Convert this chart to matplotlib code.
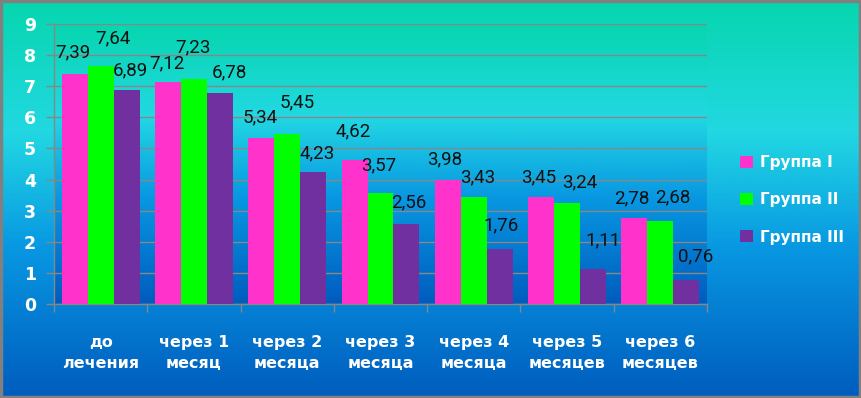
import numpy as np
import matplotlib
matplotlib.use("Agg")
import matplotlib.pyplot as plt
from matplotlib.colors import LinearSegmentedColormap
from matplotlib.patches import Rectangle

plt.rcParams["font.family"] = ["Roboto", "DejaVu Sans"]
BOLD = ["DejaVu Sans"]

categories = ["до\nлечения", "через 1\nмесяц", "через 2\nмесяца", "через 3\nмесяца",
              "через 4\nмесяца", "через 5\nмесяцев", "через 6\nмесяцев"]
series_names = ["Группа I", "Группа II", "Группа III"]
group1 = [7.39, 7.12, 5.34, 4.62, 3.98, 3.45, 2.78]
group2 = [7.64, 7.23, 5.45, 3.57, 3.43, 3.24, 2.68]
group3 = [6.89, 6.78, 4.23, 2.56, 1.76, 1.11, 0.76]
yticks = list(range(0, 10))

colors = ["#FF33CC", "#00FF00", "#7030A0"]
# label offsets in points (dx, dy) per series, per category
offsets = [
    [(-1, 16), (-1, 14), (-1, 15), (-1, 21), (-2, 15), (-2, 14), (-2, 14)],
    [(9, 20), (-1, 23), (7, 23), (-1, 20), (3, 14), (9, 15), (9, 17)],
    [(3, 14), (7, 15), (3, 14), (2, 16), (1, 17), (7, 21), (7, 17)],
]

W, H = 862, 398
fig = plt.figure(figsize=(W / 100, H / 100), dpi=100)

grad_cmap = LinearSegmentedColormap.from_list(
    "bg", [(0.0, "#06D6AE"), (0.33, "#22D8E2"), (0.62, "#0898E2"), (1.0, "#005CBE")])
grad = np.linspace(0, 1, 256).reshape(-1, 1)

bg = fig.add_axes([0, 0, 1, 1], zorder=-10)
bg.imshow(grad, aspect="auto", cmap=grad_cmap, extent=[0, 1, 0, 1], origin="upper")
bg.set_axis_off()
bg.add_patch(Rectangle((0.001, 0.002), 0.997, 0.995, transform=bg.transAxes,
                       fill=False, edgecolor="#808080", linewidth=2.5))

left, right, top, bottom = 54, 707, 24, 304
ax = fig.add_axes([left / W, 1 - bottom / H, (right - left) / W, (bottom - top) / H])
ax.set_facecolor("none")
ax.imshow(grad, aspect="auto", cmap=grad_cmap, extent=[0, 1, 0, 1],
          transform=ax.transAxes, origin="upper", zorder=0)

x = np.arange(len(categories))
bw = 0.278
data = [group1, group2, group3]
for i, (vals, c, name) in enumerate(zip(data, colors, series_names)):
    pos = x + (i - 1) * bw
    bars = ax.bar(pos, vals, width=bw, color=c, label=name, zorder=3)
    for j, (b, v) in enumerate(zip(bars, vals)):
        dx, dy = offsets[i][j]
        ax.annotate(f"{v:.2f}".replace(".", ","),
                    xy=(b.get_x() + b.get_width() / 2, v),
                    xytext=(dx, dy), textcoords="offset points",
                    ha="center", va="center", fontsize=13.5, color="#111111", zorder=5)

ax.set_xlim(-0.5, len(categories) - 0.5)
ax.set_ylim(0, 9)
ax.set_yticks(yticks)
ax.set_yticklabels([str(t) for t in yticks], fontsize=12.5, fontweight="bold",
                   color="white", family=BOLD)
ax.yaxis.grid(True, color="#878787", linewidth=1, zorder=1)
ax.set_axisbelow(True)

ax.set_xticks(np.arange(-0.5, len(categories), 1.0), minor=False)
ax.set_xticklabels([])
ax.set_xticks(x, minor=True)
ax.set_xticklabels(categories, minor=True, fontsize=11.5, fontweight="bold",
                   color="white", linespacing=1.5, family=BOLD)
ax.tick_params(axis="x", which="minor", length=0, pad=22)
ax.tick_params(axis="x", which="major", length=6, color="#878787", width=1)
ax.tick_params(axis="y", length=6, color="#878787", width=1, pad=7)

for s in ["top", "right"]:
    ax.spines[s].set_visible(False)
for s in ["left", "bottom"]:
    ax.spines[s].set_color("#878787")
    ax.spines[s].set_linewidth(1)

leg = fig.legend(loc="center left", bbox_to_anchor=(740 / W, 1 - 200 / H),
                 frameon=False, prop={"size": 11, "weight": "bold", "family": BOLD},
                 borderpad=0, borderaxespad=0,
                 handlelength=0.85, handleheight=0.85, labelspacing=1.45, handletextpad=0.45)
for t in leg.get_texts():
    t.set_color("white")

fig.savefig("out.png", dpi=100)
